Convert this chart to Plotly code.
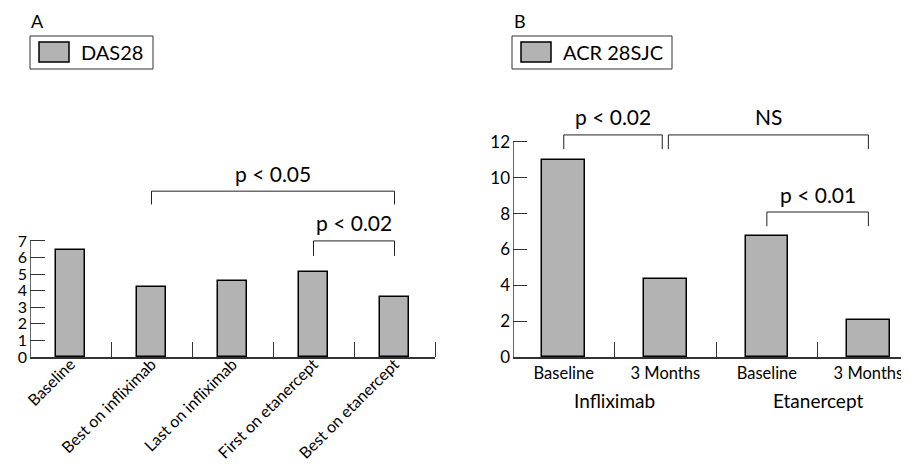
import plotly.graph_objects as go

# ---- data ----
das_labels = ["Baseline", "Best on infliximab", "Last on infliximab",
              "First on etanercept", "Best on etanercept"]
das_values = [6.45, 4.2, 4.6, 5.15, 3.6]
das_ticks = [0, 1, 2, 3, 4, 5, 6, 7]

acr_labels = ["Baseline", "3 Months", "Baseline", "3 Months"]
acr_groups = ["Infliximab", "Etanercept"]
acr_values = [11.0, 4.35, 6.75, 2.05]
acr_ticks = [0, 2, 4, 6, 8, 10, 12]

# brackets: (axis suffix, x start, x end, top y, leg bottom y, label)
brackets = [
    ("", 1, 4, 10.0, 9.2, "p < 0.05"),
    ("", 3, 4, 7.0, 6.1, "p < 0.02"),
    ("2", 0, 0.97, 12.39, 11.6, "p < 0.02"),
    ("2", 1.03, 3, 12.39, 11.6, "NS"),
    ("2", 2, 3, 8.09, 7.3, "p < 0.01"),
]

OFF = 8  # page body margin
W, H = 909 - OFF, 471 - 2 * OFF
FONT = "Lato"
GRAY = "#b3b3b3"
AXC = "#333333"


def X(px):
    return (px - OFF) / W


def Y(py):
    return 1 - (py - OFF) / H


fig = go.Figure()
fig.add_trace(go.Bar(x=list(range(len(das_values))), y=das_values, width=0.35,
                     marker=dict(color=GRAY, line=dict(color="black", width=1.5)),
                     xaxis="x", yaxis="y", showlegend=False, hoverinfo="skip"))
fig.add_trace(go.Bar(x=list(range(len(acr_values))), y=acr_values, width=0.42,
                     marker=dict(color=GRAY, line=dict(color="black", width=1.5)),
                     xaxis="x2", yaxis="y2", showlegend=False, hoverinfo="skip"))

shapes = []
annotations = []

# y axis lines only up to top tick
shapes.append(dict(type="line", xref="x", yref="y", x0=-0.5, x1=-0.5, y0=0, y1=das_ticks[-1],
                   line=dict(color=AXC, width=1.5)))
shapes.append(dict(type="line", xref="x2", yref="y2", x0=-0.5, x1=-0.5, y0=0, y1=acr_ticks[-1],
                   line=dict(color=AXC, width=1.5)))

for ax, xs, xe, top, bot, lab in brackets:
    xr, yr = "x" + ax, "y" + ax
    shapes.append(dict(type="path", xref=xr, yref=yr,
                       path=f"M {xs},{bot} L {xs},{top} L {xe},{top} L {xe},{bot}",
                       line=dict(color="#222", width=1)))
    annotations.append(dict(xref=xr, yref=yr, x=(xs + xe) / 2, y=top, text=lab,
                            showarrow=False, yanchor="middle", yshift=18,
                            font=dict(family=FONT, size=21, color="black")))

# group labels under panel B
for i, g in enumerate(acr_groups):
    annotations.append(dict(xref="x2", yref="paper", x=2 * i + 0.5, y=Y(400), text=g,
                            showarrow=False, yanchor="middle",
                            font=dict(family=FONT, size=19, color="black")))

# panel letters
for px, letter in [(29, "A"), (512, "B")]:
    annotations.append(dict(xref="paper", yref="paper", x=X(px), y=1.0, text=letter, showarrow=False,
                            xanchor="left", yanchor="top", font=dict(family=FONT, size=18, color="black")))

# legend boxes
for (bx0, bx1, name) in [(30, 153, "DAS28"), (512, 672, "ACR 28SJC")]:
    shapes.append(dict(type="rect", xref="paper", yref="paper", x0=X(bx0), x1=X(bx1), y0=Y(69), y1=Y(36),
                       line=dict(color="#333", width=1), fillcolor="white"))
    shapes.append(dict(type="rect", xref="paper", yref="paper", x0=X(bx0 + 9), x1=X(bx0 + 39), y0=Y(62), y1=Y(42),
                       line=dict(color="black", width=1.5), fillcolor=GRAY))
    annotations.append(dict(xref="paper", yref="paper", x=X(bx0 + 49), y=Y(52), text=name, showarrow=False,
                            xanchor="left", yanchor="middle", font=dict(family=FONT, size=20, color="black")))

axis_common = dict(showgrid=False, zeroline=False, fixedrange=True, color="black",
                   automargin=False, ticklabeloverflow="allow")

fig.update_layout(
    template="none",
    width=W, height=H,
    margin=dict(l=0, r=0, t=0, b=0, autoexpand=False),
    paper_bgcolor="white", plot_bgcolor="rgba(0,0,0,0)",
    font=dict(family=FONT, color="black"),
    bargap=0,
    shapes=shapes,
    annotations=annotations,
    xaxis=dict(domain=[X(30), X(435)], range=[-0.5, 4.5], anchor="y",
               tickmode="array", tickvals=list(range(len(das_labels))), ticktext=das_labels,
               ticks="", tickangle=-45, tickfont=dict(size=16), ticklabelstandoff=-10,
               showline=True, linecolor=AXC, linewidth=1.5,
               minor=dict(tickmode="array", tickvals=[0.5, 1.5, 2.5, 3.5, 4.5], ticks="inside",
                          ticklen=15, tickwidth=1, tickcolor=AXC),
               **axis_common),
    yaxis=dict(domain=[Y(357), Y(158)], range=[0, 12], anchor="x",
               tickmode="array", tickvals=das_ticks, ticks="inside", ticklen=15, tickwidth=1,
               tickcolor=AXC, tickfont=dict(size=16), showline=False, ticklabelstandoff=2,
               **axis_common),
    xaxis2=dict(domain=[X(513), 1.0], range=[-0.5, 3.4], anchor="y2",
                tickmode="array", tickvals=list(range(len(acr_labels))), ticktext=acr_labels,
                ticks="", tickfont=dict(size=16.5),
                showline=True, linecolor=AXC, linewidth=1.5,
                minor=dict(tickmode="array", tickvals=[0.5, 1.5, 2.5], ticks="inside",
                           ticklen=15, tickwidth=1, tickcolor=AXC),
                **axis_common),
    yaxis2=dict(domain=[Y(357), Y(124)], range=[0, 13], anchor="x2",
                tickmode="array", tickvals=acr_ticks, ticks="inside", ticklen=14, tickwidth=1,
                tickcolor=AXC, tickfont=dict(size=17), showline=False, ticklabelstandoff=2,
                **axis_common),
)

fig.write_html("out.html")
